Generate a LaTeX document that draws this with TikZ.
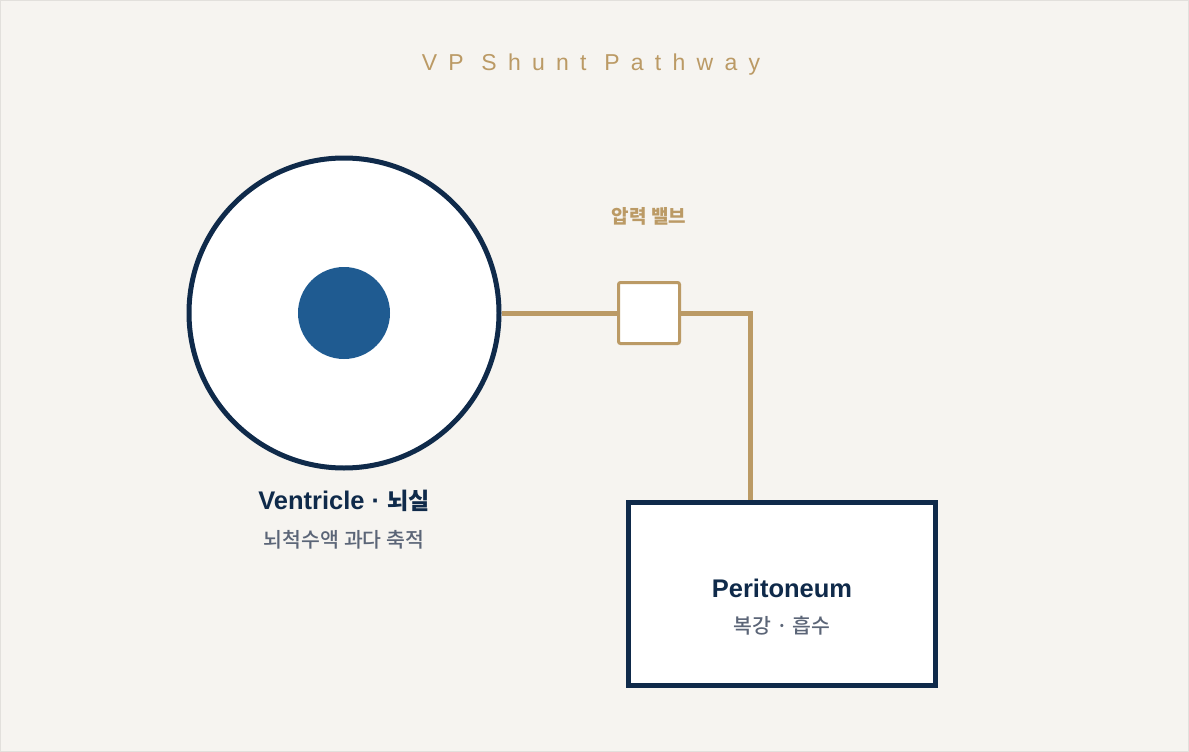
\documentclass[tikz,border=0pt]{standalone}
\usepackage{fontspec}
\setmainfont{Noto Sans CJK KR}
\newfontfamily\notefont{Noto Sans CJK KR Medium}
\newfontfamily\latinfont{Liberation Sans}
\newfontfamily\titlefont[LetterSpace=49]{Liberation Sans}
\usepackage{tikz}
\usetikzlibrary{positioning,calc}
\usepackage{xcolor}

\definecolor{navy}{HTML}{0F2A4A}
\definecolor{gold}{HTML}{BB9A65}
\definecolor{slate}{HTML}{5B6577}
\definecolor{core}{HTML}{1F5B91}
\definecolor{paper}{HTML}{F6F4F0}
\definecolor{edge}{HTML}{E2E0DC}

\begin{document}
\begin{tikzpicture}[x=1pt, y=-1pt,
    organ/.style={draw=navy, line width=5pt, fill=white, inner sep=0pt},
    shunt/.style={draw=gold, line width=5pt},
    heading/.style={font=\latinfont\bfseries\fontsize{25.5}{28}\selectfont, text=navy},
    caption/.style={font=\notefont\fontsize{20.5}{24}\selectfont, text=slate}]
    % Background
    \fill[paper] (0,0) rectangle (1189,752);
    \draw[edge, line width=1pt] (0.5,0.5) rectangle (1188.5,751.5);

    % Title
    \node (title) at (591,65) {\titlefont\fontsize{23}{26}\selectfont\color{gold}VP Shunt Pathway};

    % Ventricle
    \node[organ, circle, minimum size=310pt] (ventricle) at (344,313) {};
    \node[circle, fill=core, minimum size=92pt, inner sep=0pt] (csf) at (ventricle.center) {};
    \node[heading] (ventriclelabel) at (344,501) {Ventricle · {\normalfont\bfseries\fontsize{23}{28}\selectfont 뇌실}};
    \node[caption] (ventriclenote) at (344,540) {뇌척수액 과다 축적};

    % Valve
    \node[draw=gold, line width=3pt, fill=white, rounded corners=2pt,
          minimum size=61pt, inner sep=0pt] (valve) at (649,313) {};
    \node[font=\bfseries\fontsize{19}{22}\selectfont, text=gold] (valvelabel) at (649,216) {압력 밸브};

    % Peritoneum
    \node[organ, rectangle, minimum width=307pt, minimum height=183pt] (peritoneum) at (782,594) {};
    \node[heading] (peritoneumlabel) at (782,588) {Peritoneum};
    \node[caption] (peritoneumnote) at (782,626) {복강 · 흡수};

    % Shunt tubing
    \coordinate (bend) at (750,313);
    \draw[shunt] (ventricle.east) -- (valve.west);
    \draw[shunt] (valve.east) -- (bend) -- (bend |- peritoneum.north);
\end{tikzpicture}
\end{document}
